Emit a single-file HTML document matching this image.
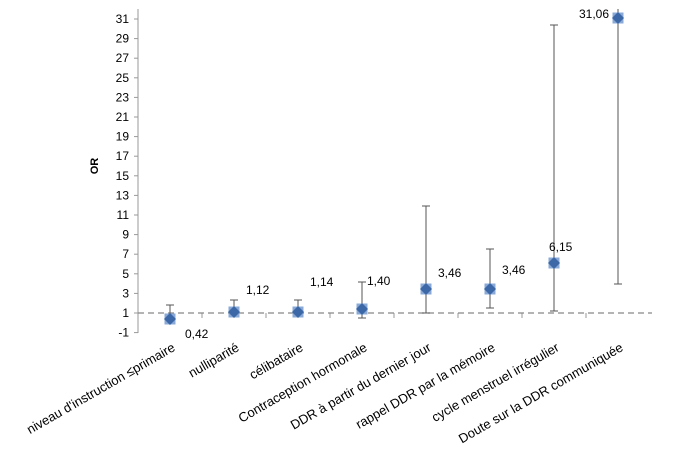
<!DOCTYPE html>
<html><head><meta charset="utf-8"><style>
html,body{margin:0;padding:0;background:#fff;}
svg{display:block;font-family:"Liberation Sans",sans-serif;}
</style></head><body>
<svg width="676" height="450" viewBox="0 0 676 450" xmlns="http://www.w3.org/2000/svg">
<line x1="138" y1="9" x2="138" y2="333" stroke="#999" stroke-width="1"/>
<g stroke="#999" stroke-width="1">
<line x1="134" y1="19" x2="138" y2="19"/><line x1="134" y1="38.6" x2="138" y2="38.6"/>
<line x1="134" y1="58.2" x2="138" y2="58.2"/><line x1="134" y1="77.8" x2="138" y2="77.8"/>
<line x1="134" y1="97.4" x2="138" y2="97.4"/><line x1="134" y1="117" x2="138" y2="117"/>
<line x1="134" y1="136.6" x2="138" y2="136.6"/><line x1="134" y1="156.2" x2="138" y2="156.2"/>
<line x1="134" y1="175.8" x2="138" y2="175.8"/><line x1="134" y1="195.4" x2="138" y2="195.4"/>
<line x1="134" y1="215" x2="138" y2="215"/><line x1="134" y1="234.6" x2="138" y2="234.6"/>
<line x1="134" y1="254.2" x2="138" y2="254.2"/><line x1="134" y1="273.8" x2="138" y2="273.8"/>
<line x1="134" y1="293.4" x2="138" y2="293.4"/><line x1="134" y1="313" x2="138" y2="313"/>
<line x1="134" y1="332.6" x2="138" y2="332.6"/>
<line x1="202" y1="313" x2="202" y2="318"/><line x1="266" y1="313" x2="266" y2="318"/>
<line x1="330" y1="313" x2="330" y2="318"/><line x1="394" y1="313" x2="394" y2="318"/>
<line x1="458" y1="313" x2="458" y2="318"/><line x1="522" y1="313" x2="522" y2="318"/>
<line x1="586" y1="313" x2="586" y2="318"/>
</g>
<g font-size="12" fill="#000" text-anchor="end">
<text x="129" y="23">31</text><text x="129" y="42.6">29</text><text x="129" y="62.2">27</text>
<text x="129" y="81.8">25</text><text x="129" y="101.4">23</text><text x="129" y="121">21</text>
<text x="129" y="140.6">19</text><text x="129" y="160.2">17</text><text x="129" y="179.8">15</text>
<text x="129" y="199.4">13</text><text x="129" y="219">11</text><text x="129" y="238.6">9</text>
<text x="129" y="258.2">7</text><text x="129" y="277.8">5</text><text x="129" y="297.4">3</text>
<text x="129" y="317">1</text><text x="129" y="336.6">-1</text>
</g>
<text x="0" y="0" font-size="11" font-weight="bold" transform="translate(98,166) rotate(-90)" text-anchor="middle">OR</text>
<line x1="138" y1="313" x2="652" y2="313" stroke="#888" stroke-width="1.3" stroke-dasharray="6,4"/>
<g stroke="#555" stroke-width="1">
<line x1="170" y1="305" x2="170" y2="324"/><line x1="166" y1="305" x2="174" y2="305"/>
<line x1="234" y1="300" x2="234" y2="317"/><line x1="230" y1="300" x2="238" y2="300"/><line x1="230" y1="317" x2="238" y2="317"/>
<line x1="298" y1="300" x2="298" y2="317"/><line x1="294" y1="300" x2="302" y2="300"/><line x1="294" y1="317" x2="302" y2="317"/>
<line x1="362" y1="282" x2="362" y2="318"/><line x1="358" y1="282" x2="366" y2="282"/><line x1="358" y1="318" x2="366" y2="318"/>
<line x1="426" y1="206" x2="426" y2="313"/><line x1="422" y1="206" x2="430" y2="206"/><line x1="422" y1="313" x2="430" y2="313"/>
<line x1="490" y1="249" x2="490" y2="308"/><line x1="486" y1="249" x2="494" y2="249"/><line x1="486" y1="308" x2="494" y2="308"/>
<line x1="554" y1="25" x2="554" y2="311"/><line x1="550" y1="25" x2="558" y2="25"/><line x1="550" y1="311" x2="558" y2="311"/>
<line x1="618" y1="9" x2="618" y2="284"/><line x1="614" y1="284" x2="622" y2="284"/>
</g>
<g>
<g transform="translate(170,319)"><rect x="-5.5" y="-5.5" width="11" height="11" fill="#8aa9d6"/><path d="M0,-6 L6,0 L0,6 L-6,0Z" fill="#3c68a8"/></g>
<g transform="translate(234,312)"><rect x="-5.5" y="-5.5" width="11" height="11" fill="#8aa9d6"/><path d="M0,-6 L6,0 L0,6 L-6,0Z" fill="#3c68a8"/></g>
<g transform="translate(298,312)"><rect x="-5.5" y="-5.5" width="11" height="11" fill="#8aa9d6"/><path d="M0,-6 L6,0 L0,6 L-6,0Z" fill="#3c68a8"/></g>
<g transform="translate(362,309)"><rect x="-5.5" y="-5.5" width="11" height="11" fill="#8aa9d6"/><path d="M0,-6 L6,0 L0,6 L-6,0Z" fill="#3c68a8"/></g>
<g transform="translate(426,289)"><rect x="-5.5" y="-5.5" width="11" height="11" fill="#8aa9d6"/><path d="M0,-6 L6,0 L0,6 L-6,0Z" fill="#3c68a8"/></g>
<g transform="translate(490,289)"><rect x="-5.5" y="-5.5" width="11" height="11" fill="#8aa9d6"/><path d="M0,-6 L6,0 L0,6 L-6,0Z" fill="#3c68a8"/></g>
<g transform="translate(554,263)"><rect x="-5.5" y="-5.5" width="11" height="11" fill="#8aa9d6"/><path d="M0,-6 L6,0 L0,6 L-6,0Z" fill="#3c68a8"/></g>
<g transform="translate(618,18)"><rect x="-5.5" y="-5.5" width="11" height="11" fill="#8aa9d6"/><path d="M0,-6 L6,0 L0,6 L-6,0Z" fill="#3c68a8"/></g>
</g>
<g font-size="12" fill="#000">
<text x="185" y="338">0,42</text>
<text x="246" y="294">1,12</text>
<text x="310" y="286">1,14</text>
<text x="367" y="285">1,40</text>
<text x="438" y="277">3,46</text>
<text x="502" y="274">3,46</text>
<text x="549" y="251">6,15</text>
<text x="579" y="18">31,06</text>
</g>
<g font-size="13" fill="#000" text-anchor="end">
<text transform="translate(176,350) rotate(-30)">niveau d'instruction ≤primaire</text>
<text transform="translate(240,350) rotate(-30)">nulliparité</text>
<text transform="translate(304,350) rotate(-30)">célibataire</text>
<text transform="translate(368,350) rotate(-30)">Contraception hormonale</text>
<text transform="translate(432,350) rotate(-30)">DDR à partir du dernier jour</text>
<text transform="translate(496,350) rotate(-30)">rappel DDR par la mémoire</text>
<text transform="translate(560,350) rotate(-30)">cycle menstruel irrégulier</text>
<text transform="translate(624,350) rotate(-30)">Doute sur la DDR communiquée</text>
</g>
</svg>
</body></html>
